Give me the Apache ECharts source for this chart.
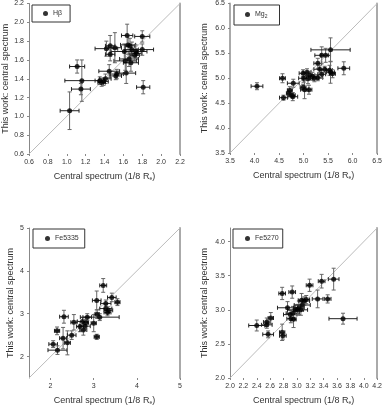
<!DOCTYPE html>
<html>
<head>
<meta charset="utf-8">
<script src="https://cdn.jsdelivr.net/npm/echarts@6/dist/echarts.min.js"></script>
<style>
    html, body {margin: 0; padding: 0; background: #fff;}
    #chart {width: 385px; height: 408px;}
</style>
</head>
<body>
<div id="chart"></div>
<script>
// H beta: x, y, x error, y error
var hbX = [1.03, 1.11, 1.16, 1.15, 1.35, 1.39, 1.41, 1.37, 1.45, 1.52, 1.53, 1.63, 1.62, 1.66, 1.68, 1.42, 1.46, 1.51, 1.46, 1.61, 1.64, 1.65, 1.67, 1.69, 1.73, 1.74, 1.72, 1.80, 1.80, 1.81];
var hbY = [1.06, 1.53, 1.38, 1.29, 1.38, 1.37, 1.40, 1.36, 1.48, 1.43, 1.45, 1.46, 1.59, 1.61, 1.57, 1.72, 1.75, 1.73, 1.66, 1.69, 1.86, 1.76, 1.75, 1.71, 1.69, 1.67, 1.65, 1.85, 1.71, 1.31];
var hbXErr = [0.10, 0.08, 0.18, 0.10, 0.05, 0.05, 0.06, 0.04, 0.11, 0.06, 0.07, 0.10, 0.12, 0.10, 0.08, 0.12, 0.05, 0.07, 0.05, 0.14, 0.06, 0.08, 0.05, 0.07, 0.12, 0.05, 0.05, 0.08, 0.12, 0.07];
var hbYErr = [0.20, 0.07, 0.22, 0.06, 0.04, 0.04, 0.05, 0.04, 0.07, 0.04, 0.05, 0.11, 0.10, 0.08, 0.09, 0.08, 0.11, 0.16, 0.07, 0.08, 0.12, 0.10, 0.08, 0.08, 0.07, 0.05, 0.06, 0.06, 0.06, 0.07];

// Mg2
var mgX = [4.05, 4.57, 4.59, 4.70, 4.72, 4.77, 4.79, 4.78, 4.99, 4.99, 5.00, 5.02, 5.07, 5.09, 5.11, 5.13, 5.18, 5.22, 5.29, 5.29, 5.33, 5.37, 5.45, 5.43, 5.53, 5.55, 5.55, 5.59, 5.82, 5.37];
var mgY = [4.84, 5.00, 4.61, 4.70, 4.76, 4.66, 4.90, 4.63, 5.10, 4.82, 5.00, 4.77, 5.12, 4.99, 4.77, 5.06, 5.04, 5.00, 5.01, 5.30, 5.18, 5.46, 5.46, 5.18, 5.16, 5.57, 5.12, 5.09, 5.20, 5.08];
var mgXErr = [0.12, 0.06, 0.08, 0.05, 0.05, 0.06, 0.12, 0.10, 0.08, 0.06, 0.10, 0.08, 0.08, 0.10, 0.06, 0.10, 0.12, 0.08, 0.10, 0.08, 0.12, 0.14, 0.10, 0.10, 0.06, 0.40, 0.08, 0.06, 0.12, 0.08];
var mgYErr = [0.07, 0.09, 0.05, 0.06, 0.07, 0.05, 0.08, 0.08, 0.07, 0.06, 0.08, 0.18, 0.07, 0.10, 0.09, 0.08, 0.08, 0.07, 0.06, 0.10, 0.07, 0.17, 0.14, 0.06, 0.10, 0.24, 0.22, 0.08, 0.13, 0.08];

// Fe5335
var fe35X = [2.06, 2.16, 2.15, 2.29, 2.31, 2.39, 2.49, 2.54, 2.68, 2.74, 2.76, 2.80, 2.82, 2.85, 3.00, 3.07, 3.07, 3.08, 3.14, 3.22, 3.28, 3.28, 3.34, 3.32, 3.42, 3.55];
var fe35Y = [2.29, 2.15, 2.60, 2.43, 2.93, 2.32, 2.50, 2.80, 2.70, 2.82, 2.62, 2.71, 2.79, 2.92, 2.78, 2.46, 3.31, 2.99, 2.92, 3.66, 3.24, 3.12, 3.08, 3.03, 3.38, 3.27];
var fe35XErr = [0.10, 0.22, 0.06, 0.08, 0.10, 0.07, 0.10, 0.07, 0.08, 0.12, 0.08, 0.12, 0.06, 0.10, 0.06, 0.06, 0.10, 0.05, 0.45, 0.08, 0.12, 0.14, 0.10, 0.08, 0.10, 0.06];
var fe35YErr = [0.08, 0.10, 0.09, 0.25, 0.15, 0.28, 0.10, 0.18, 0.12, 0.09, 0.12, 0.10, 0.08, 0.08, 0.20, 0.06, 0.22, 0.10, 0.08, 0.16, 0.08, 0.10, 0.08, 0.08, 0.10, 0.08];

// Fe5270
var fe27X = [2.40, 2.55, 2.55, 2.61, 2.57, 2.78, 2.78, 2.79, 2.86, 2.93, 2.90, 2.91, 2.94, 2.95, 2.98, 3.01, 3.03, 3.06, 3.07, 3.11, 3.14, 3.19, 3.31, 3.37, 3.46, 3.55, 3.69, 3.08];
var fe27Y = [2.77, 2.82, 2.78, 2.88, 2.64, 3.24, 2.67, 2.62, 3.03, 3.26, 2.93, 2.87, 2.95, 2.86, 3.00, 3.00, 3.03, 3.00, 3.14, 3.13, 3.15, 3.36, 3.16, 3.42, 3.16, 3.45, 2.87, 3.07];
var fe27XErr = [0.12, 0.05, 0.08, 0.04, 0.08, 0.05, 0.04, 0.05, 0.15, 0.05, 0.10, 0.06, 0.10, 0.04, 0.12, 0.06, 0.08, 0.10, 0.05, 0.08, 0.05, 0.05, 0.08, 0.05, 0.05, 0.08, 0.21, 0.12];
var fe27YErr = [0.08, 0.06, 0.05, 0.08, 0.05, 0.09, 0.12, 0.05, 0.09, 0.09, 0.06, 0.06, 0.10, 0.12, 0.07, 0.08, 0.10, 0.08, 0.10, 0.06, 0.06, 0.09, 0.13, 0.10, 0.06, 0.16, 0.08, 0.06];

var hbTicks = [0.6, 0.8, 1.0, 1.2, 1.4, 1.6, 1.8, 2.0, 2.2];
var mgTicks = [3.5, 4.0, 4.5, 5.0, 5.5, 6.0, 6.5];
var fe35Ticks = [2, 3, 4, 5];
var fe27XTicks = [2.0, 2.2, 2.4, 2.6, 2.8, 3.0, 3.2, 3.4, 3.6, 3.8, 4.0, 4.2];
var fe27YTicks = [2.0, 2.5, 3.0, 3.5, 4.0];

var panels = [
    {name: 'Hβ', x: hbX, y: hbY, xe: hbXErr, ye: hbYErr, min: 0.6, max: 2.2, xTicks: hbTicks, yTicks: hbTicks, dec: 1,
        grid: {left: 29, top: 3, width: 151, height: 151}, legend: {left: 32, top: 5, padding: [5, 8, 5, 11]}, thickLeft: false},
    {name: 'Mg2', x: mgX, y: mgY, xe: mgXErr, ye: mgYErr, min: 3.5, max: 6.5, xTicks: mgTicks, yTicks: mgTicks, dec: 1,
        grid: {left: 230, top: 3, width: 150, height: 150}, legend: {left: 234, top: 5, padding: [6, 12, 6, 11]}, thickLeft: true},
    {name: 'Fe5335', x: fe35X, y: fe35Y, xe: fe35XErr, ye: fe35YErr, min: 1.5, max: 5, xTicks: fe35Ticks, yTicks: fe35Ticks, dec: 0,
        grid: {left: 29, top: 228, width: 151, height: 150}, legend: {left: 33, top: 229, padding: [6, 6, 6, 12]}, thickLeft: false},
    {name: 'Fe5270', x: fe27X, y: fe27Y, xe: fe27XErr, ye: fe27YErr, min: 2.0, max: 4.2, xTicks: fe27XTicks, yTicks: fe27YTicks, dec: 1,
        grid: {left: 230, top: 228, width: 153, height: 150}, legend: {left: 233, top: 229, padding: [6, 4, 6, 12]}, thickLeft: false}
];

var font = 'Arial, "Liberation Sans", sans-serif';
var labelColor = '#333';

function renderErr(params, api) {
    var x = api.value(0), y = api.value(1), dx = api.value(2), dy = api.value(3);
    var l = api.coord([x - dx, y]), r = api.coord([x + dx, y]);
    var b = api.coord([x, y - dy]), t = api.coord([x, y + dy]);
    var c = 2;
    var hs = {stroke: '#222', lineWidth: 1};
    var vs = {stroke: '#666', lineWidth: 1};
    return {
        type: 'group',
        children: [
            {type: 'line', shape: {x1: l[0], y1: l[1], x2: r[0], y2: r[1]}, style: hs},
            {type: 'line', shape: {x1: l[0], y1: l[1] - c, x2: l[0], y2: l[1] + c}, style: hs},
            {type: 'line', shape: {x1: r[0], y1: r[1] - c, x2: r[0], y2: r[1] + c}, style: hs},
            {type: 'line', shape: {x1: b[0], y1: b[1], x2: t[0], y2: t[1]}, style: vs},
            {type: 'line', shape: {x1: b[0] - c, y1: b[1], x2: b[0] + c, y2: b[1]}, style: vs},
            {type: 'line', shape: {x1: t[0] - c, y1: t[1], x2: t[0] + c, y2: t[1]}, style: vs}
        ]
    };
}

var rich = {s: {fontSize: 5, fontFamily: font, color: labelColor, padding: [4, 0, 0, 0]}};

var option = {
    animation: false,
    backgroundColor: '#fff',
    grid: [], xAxis: [], yAxis: [], series: [], legend: []
};

panels.forEach(function (p, i) {
    var pts = [], errs = [];
    for (var k = 0; k < p.x.length; k++) {
        pts.push([p.x[k], p.y[k]]);
        errs.push([p.x[k], p.y[k], p.xe[k], p.ye[k]]);
    }
    var fmt = function (v) { return v.toFixed(p.dec); };

    option.grid.push(p.grid);
    option.xAxis.push({
        type: 'value', gridIndex: i, min: p.min, max: p.max,
        name: 'Central spectrum (1/8 R{s|e})', nameLocation: 'middle', nameGap: 18,
        nameTextStyle: {fontSize: 9, color: labelColor, fontFamily: font, rich: rich},
        axisLine: {show: false},
        axisTick: {show: true, length: 2, customValues: p.xTicks, lineStyle: {color: '#888'}},
        axisLabel: {customValues: p.xTicks, formatter: fmt, fontSize: 7, color: labelColor, fontFamily: font, margin: 5},
        splitLine: {show: false}
    });
    option.yAxis.push({
        type: 'value', gridIndex: i, min: p.min, max: p.max,
        name: 'This work: central spectrum', nameLocation: 'middle', nameGap: p.grid.left > 100 ? 21 : 14,
        nameTextStyle: {fontSize: 9, color: labelColor, fontFamily: font},
        axisLine: {show: true, lineStyle: {color: p.thickLeft ? '#aaa' : '#888', width: p.thickLeft ? 2 : 1}},
        axisTick: {show: true, length: 2, customValues: p.yTicks, lineStyle: {color: '#888'}},
        axisLabel: {customValues: p.yTicks, formatter: fmt, fontSize: 7, color: labelColor, fontFamily: font, margin: 5},
        splitLine: {show: false}
    });
    // right-hand frame line
    option.yAxis.push({
        type: 'value', gridIndex: i, min: p.min, max: p.max, position: 'right',
        axisLine: {show: true, onZero: false, lineStyle: {color: '#aaa', width: 2}},
        axisTick: {show: false}, axisLabel: {show: false}, splitLine: {show: false}
    });
    var yIdx = i * 2;

    option.series.push({
        type: 'line', xAxisIndex: i, yAxisIndex: yIdx, silent: true, symbol: 'none',
        data: [[p.min, p.min], [p.max, p.max]],
        lineStyle: {color: '#bbb', width: 1}, z: 1
    });
    option.series.push({
        type: 'custom', xAxisIndex: i, yAxisIndex: yIdx, renderItem: renderErr,
        encode: {x: 0, y: 1}, data: errs, z: 2, silent: true
    });
    option.series.push({
        type: 'scatter', name: p.name, xAxisIndex: i, yAxisIndex: yIdx,
        symbol: 'circle', symbolSize: 5, itemStyle: {color: '#000'}, data: pts, z: 3
    });
    option.legend.push({
        data: [p.name], left: p.legend.left, top: p.legend.top, padding: p.legend.padding,
        orient: 'horizontal', icon: 'circle', itemWidth: 5, itemHeight: 5,
        borderColor: '#333', borderWidth: 1, borderRadius: 0,
        formatter: function (n) { return n === 'Mg2' ? 'Mg{s|2}' : n; },
        textStyle: {fontSize: 7, color: labelColor, fontFamily: font, rich: rich},
        selectedMode: false
    });
});

var chart = echarts.init(document.getElementById('chart'));
chart.setOption(option);
</script>
</body>
</html>
